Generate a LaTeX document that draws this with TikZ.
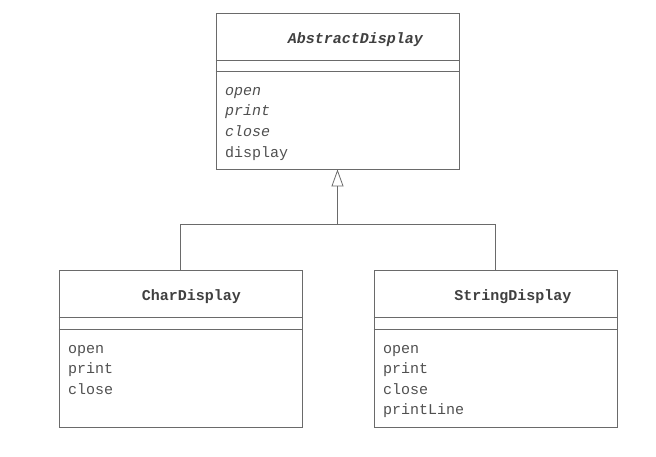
\documentclass[tikz,border=0pt]{standalone}
\usepackage{fontspec}
\setmonofont{Liberation Mono}
\usetikzlibrary{arrows.meta,calc}
\definecolor{ink}{HTML}{505050}
\definecolor{edge}{HTML}{6A6A6A}
\begin{document}
\begin{tikzpicture}[x=1pt,y=-1pt,
  classbox/.style={draw=edge,line width=0.8pt,rectangle,minimum width=243pt,inner sep=0pt},
  titletext/.style={anchor=base,font=\fontsize{15}{18}\selectfont\ttfamily\bfseries,text=ink!80!black,inner sep=0pt},
  methtext/.style={anchor=base west,font=\fontsize{15}{18}\selectfont\ttfamily,text=ink,inner sep=0pt},
  sep/.style={draw=edge,line width=0.8pt},
  link/.style={draw=edge,line width=0.8pt},
  inherit/.style={link,-{Triangle[open,length=17pt,width=12pt,line width=0.8pt]}}]
\useasboundingbox (0,0) rectangle (656,456);
% AbstractDisplay
\node[classbox,minimum height=156pt] (abs) at (337.5,91) {};
\draw[sep] ($(abs.north west)+(0,48)$) -- ($(abs.north east)+(0,48)$);
\draw[sep] ($(abs.north west)+(0,59)$) -- ($(abs.north east)+(0,59)$);
\node[titletext] (absT) at (355.5,43.5) {\itshape AbstractDisplay};
\node[methtext] (absM1) at (225,95) {\itshape open};
\node[methtext] (absM2) at (225,115.5) {\itshape print};
\node[methtext] (absM3) at (225,136) {\itshape close};
\node[methtext] (absM4) at (225,157) {display};
% CharDisplay
\node[classbox,minimum height=157pt] (chr) at (180.5,348.5) {};
\draw[sep] ($(chr.north west)+(0,48)$) -- ($(chr.north east)+(0,48)$);
\draw[sep] ($(chr.north west)+(0,60)$) -- ($(chr.north east)+(0,60)$);
\node[titletext] (chrT) at (191.5,300) {CharDisplay};
\node[methtext] (chrM1) at (68,353) {open};
\node[methtext] (chrM2) at (68,373.5) {print};
\node[methtext] (chrM3) at (68,394) {close};
% StringDisplay
\node[classbox,minimum height=157pt] (str) at (495.5,348.5) {};
\draw[sep] ($(str.north west)+(0,48)$) -- ($(str.north east)+(0,48)$);
\draw[sep] ($(str.north west)+(0,60)$) -- ($(str.north east)+(0,60)$);
\node[titletext] (strT) at (513,300) {StringDisplay};
\node[methtext] (strM1) at (383,353) {open};
\node[methtext] (strM2) at (383,373.5) {print};
\node[methtext] (strM3) at (383,394) {close};
\node[methtext] (strM4) at (383,414.5) {printLine};
% inheritance
\coordinate (j) at (337.5,224);
\draw[link] (chr.north) -- (chr.north |- j) -- (str.north |- j) -- (str.north);
\draw[inherit] (j) -- (abs.south);
\end{tikzpicture}
\end{document}
